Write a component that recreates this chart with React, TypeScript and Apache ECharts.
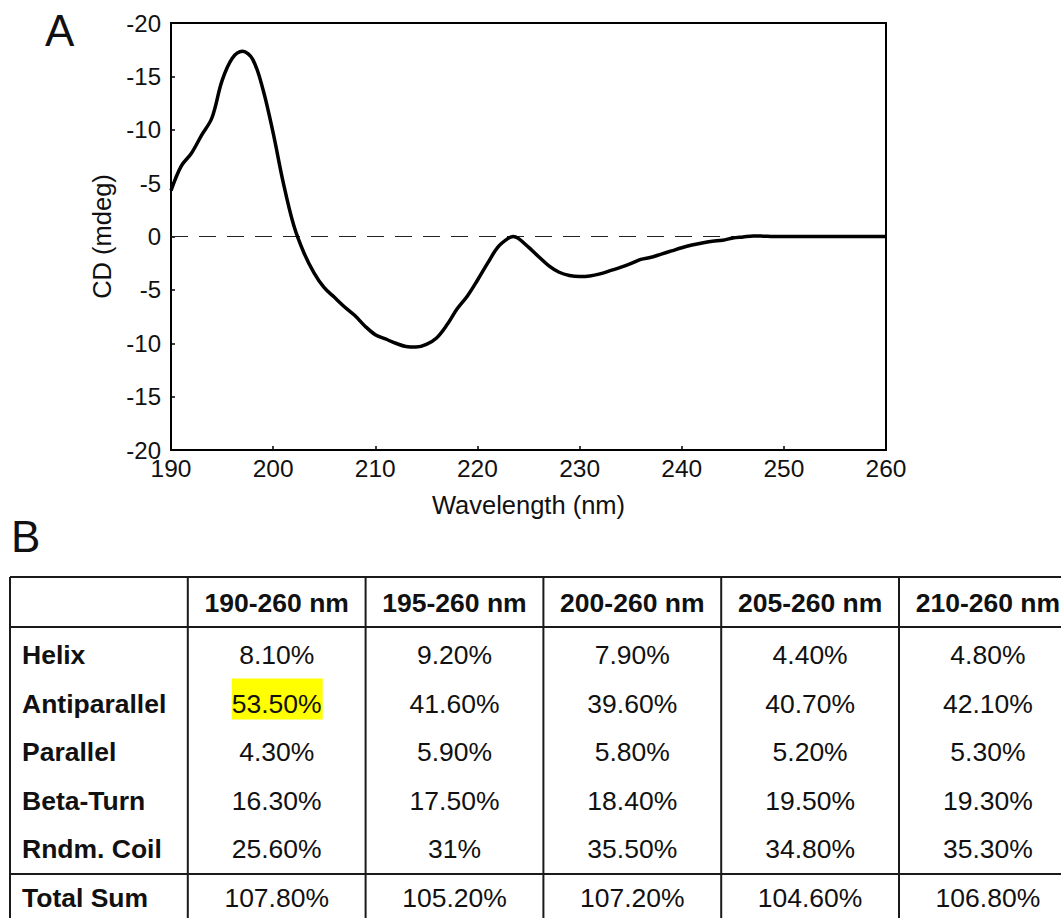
import React, { useEffect, useRef } from "react";
import * as echarts from "echarts";

// CD spectrum (panel A)
const wavelengths = [
  190, 191, 192, 193, 194, 195, 196, 197, 198, 199, 200, 201, 202, 203, 204,
  205, 206, 207, 208, 209, 210, 211, 212, 213, 214, 215, 216, 217, 218, 219,
  220, 221, 222, 223, 223.5, 224, 225, 226, 227, 228, 229, 230, 231, 232, 233,
  234, 235, 236, 237, 238, 239, 240, 241, 242, 243, 244, 245, 246, 247, 248,
  249, 250, 251, 252, 253, 254, 255, 256, 257, 258, 259, 260,
];
const cdValues = [
  4.3, 6.6, 7.8, 9.5, 11.1, 14.6, 16.7, 17.35, 16.6, 13.8, 9.7, 5.0, 1.1, -1.5,
  -3.4, -4.8, -5.7, -6.6, -7.4, -8.4, -9.2, -9.6, -10.0, -10.3, -10.35, -10.1,
  -9.5, -8.3, -6.8, -5.6, -4.1, -2.5, -1.0, -0.18, 0.0, -0.18, -1.0, -1.9,
  -2.75, -3.35, -3.65, -3.75, -3.7, -3.5, -3.2, -2.9, -2.55, -2.15, -1.95,
  -1.65, -1.35, -1.05, -0.8, -0.6, -0.45, -0.35, -0.15, -0.05, 0.05, 0.03, 0,
  0, 0, 0, 0, 0, 0, 0, 0, 0, 0, 0,
];
const yTickLabels = ["-20", "-15", "-10", "-5", "0", "-5", "-10", "-15", "-20"];

// Secondary structure table (panel B)
const rangeHeaders = ["190-260 nm", "195-260 nm", "200-260 nm", "205-260 nm", "210-260 nm"];
const structureLabels = ["Helix", "Antiparallel", "Parallel", "Beta-Turn", "Rndm. Coil"];
const helix = ["8.10%", "9.20%", "7.90%", "4.40%", "4.80%"];
const antiparallel = ["53.50%", "41.60%", "39.60%", "40.70%", "42.10%"];
const parallel = ["4.30%", "5.90%", "5.80%", "5.20%", "5.30%"];
const betaTurn = ["16.30%", "17.50%", "18.40%", "19.50%", "19.30%"];
const randomCoil = ["25.60%", "31%", "35.50%", "34.80%", "35.30%"];
const totalLabel = "Total Sum";
const totalSum = ["107.80%", "105.20%", "107.20%", "104.60%", "106.80%"];
const highlightedCell = { row: 1, col: 0 };

const FONT = "'Liberation Sans', Arial, Helvetica, sans-serif";

function buildTable(): any[] {
  const left = 10;
  const colW = 177.8;
  const top = 577;
  const headerBottom = 627;
  const totalLine = 874;
  const bottom = 930;
  const rightEdge = 1080;
  const firstRowY = 655;
  const rowStep = 48.6;
  const totalY = 898;
  const fs = 26.5;
  const lineStyle = { stroke: "#1a1a1a", lineWidth: 2 };
  const els: any[] = [];
  const rows = [helix, antiparallel, parallel, betaTurn, randomCoil];

  const text = (x: number, y: number, t: string, bold: boolean, align: string, z = 5) => ({
    type: "text",
    x,
    y,
    z,
    style: {
      text: t,
      font: `${bold ? "bold " : ""}${fs}px ${FONT}`,
      fill: "#111",
      align,
      textAlign: align,
      verticalAlign: "middle",
      textVerticalAlign: "middle",
    },
  });

  // grid lines
  [top, headerBottom, totalLine].forEach((y) =>
    els.push({ type: "line", z: 3, shape: { x1: left, y1: y, x2: rightEdge, y2: y }, style: lineStyle })
  );
  for (let c = 0; c <= rangeHeaders.length; c++) {
    const x = left + c * colW;
    els.push({ type: "line", z: 3, shape: { x1: x, y1: top, x2: x, y2: bottom }, style: lineStyle });
  }

  const colCenter = (c: number) => left + (c + 1.5) * colW;

  // header
  rangeHeaders.forEach((h, c) => els.push(text(colCenter(c), (top + headerBottom) / 2 + 1, h, true, "center")));

  // body rows
  rows.forEach((vals, r) => {
    const y = firstRowY + r * rowStep;
    els.push(text(left + 12, y, structureLabels[r], true, "left"));
    vals.forEach((v, c) => {
      if (r === highlightedCell.row && c === highlightedCell.col) {
        els.push({
          type: "rect",
          z: 2,
          shape: { x: colCenter(c) - 45, y: y - 25, width: 91, height: 41 },
          style: { fill: "#ffff00" },
        });
      }
      els.push(text(colCenter(c), y, v, false, "center"));
    });
  });

  // totals
  els.push(text(left + 12, totalY, totalLabel, true, "left"));
  totalSum.forEach((v, c) => els.push(text(colCenter(c), totalY, v, false, "center")));

  return els;
}

export default function App() {
  const ref = useRef<HTMLDivElement>(null);

  useEffect(() => {
    if (!ref.current) return;
    const chart = echarts.init(ref.current, undefined, { renderer: "svg" });
    const data = wavelengths.map((w, i) => [w, cdValues[i]]);

    const tick = { show: true, inside: true, length: 4, lineStyle: { color: "#000", width: 1.5 } };

    chart.setOption({
      animation: false,
      backgroundColor: "#fff",
      textStyle: { fontFamily: FONT },
      grid: {
        left: 171,
        right: 175,
        top: 23,
        bottom: 468,
        show: true,
        borderColor: "#000",
        borderWidth: 2,
        backgroundColor: "transparent",
      },
      xAxis: {
        type: "value",
        min: 190,
        max: 260,
        interval: 10,
        name: "Wavelength (nm)",
        nameLocation: "middle",
        nameGap: 42,
        nameTextStyle: { fontSize: 25.5, color: "#111", fontFamily: FONT },
        axisLine: { show: false, onZero: false },
        axisTick: tick,
        axisLabel: { fontSize: 24.5, color: "#111", margin: 6, fontFamily: FONT },
        splitLine: { show: false },
      },
      yAxis: {
        type: "value",
        min: -20,
        max: 20,
        interval: 5,
        name: "CD (mdeg)",
        nameLocation: "middle",
        nameGap: 52,
        nameTextStyle: { fontSize: 25.5, color: "#111", fontFamily: FONT },
        axisLine: { show: false, onZero: false },
        axisTick: tick,
        axisLabel: {
          fontSize: 24,
          color: "#111",
          margin: 10,
          fontFamily: FONT,
          formatter: (v: number) => yTickLabels[Math.round((v + 20) / 5)] ?? "",
        },
        splitLine: { show: false },
      },
      series: [
        {
          type: "line",
          data,
          smooth: 0.35,
          showSymbol: false,
          lineStyle: { color: "#000", width: 3.5 },
          z: 3,
          markLine: {
            silent: true,
            symbol: "none",
            label: { show: false },
            lineStyle: { color: "#222", width: 1.2, type: [17, 11] },
            data: [{ yAxis: 0 }],
            z: 1,
          },
        },
      ],
      graphic: [
        {
          type: "text",
          x: 45,
          y: 52,
          style: { text: "A", font: `44px ${FONT}`, fill: "#111", textVerticalAlign: "bottom", verticalAlign: "bottom" },
        },
        {
          type: "text",
          x: 11,
          y: 558,
          style: { text: "B", font: `44px ${FONT}`, fill: "#111", textVerticalAlign: "bottom", verticalAlign: "bottom" },
        },
        ...buildTable(),
      ],
    });

    return () => chart.dispose();
  }, []);

  return (
    <div
      ref={ref}
      style={{ position: "fixed", left: 0, top: 0, width: 1061, height: 918, background: "#fff" }}
    />
  );
}
